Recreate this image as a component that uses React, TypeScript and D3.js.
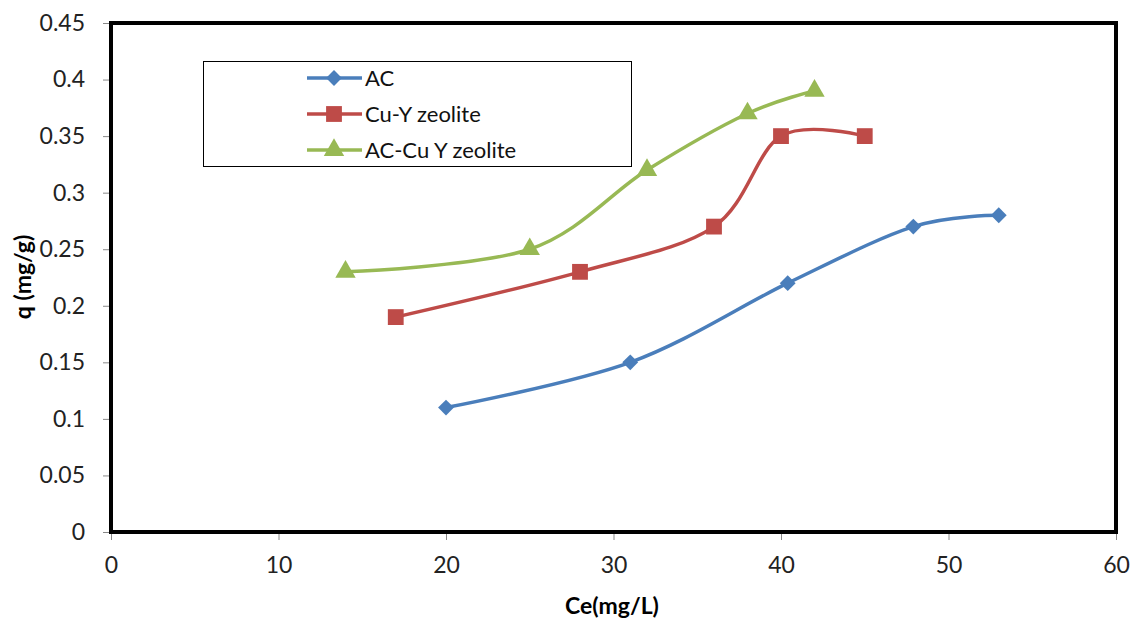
import React, { useEffect, useRef } from "react";
import * as d3 from "d3";

const acX = [20, 31, 40.4, 47.9, 53];
const acY = [0.11, 0.15, 0.22, 0.27, 0.28];
const cuX = [17, 28, 36, 40, 45];
const cuY = [0.19, 0.23, 0.27, 0.35, 0.35];
const mixX = [14, 25, 32, 38, 42];
const mixY = [0.23, 0.25, 0.32, 0.37, 0.39];
const xTicks = [0, 10, 20, 30, 40, 50, 60];
const yTicks = [0, 0.05, 0.1, 0.15, 0.2, 0.25, 0.3, 0.35, 0.4, 0.45];

const series = [
  { name: "AC", xs: acX, ys: acY, color: "#4A7EBB", symbol: d3.symbolDiamond2, size: 160 },
  { name: "Cu-Y zeolite", xs: cuX, ys: cuY, color: "#BE4B48", symbol: d3.symbolSquare, size: 250 },
  { name: "AC-Cu Y zeolite", xs: mixX, ys: mixY, color: "#98B954", symbol: d3.symbolTriangle, size: 180 },
];

const FONT = "Lato, 'Open Sans', sans-serif";

export default function App() {
  const svgRef = useRef<SVGSVGElement>(null);

  useEffect(() => {
    const svg = d3.select(svgRef.current);
    svg.selectAll("*").remove();
    const left = 111, right = 1116, top = 23, bottom = 532;
    const x = d3.scaleLinear().domain([0, 60]).range([left, right]);
    const y = d3.scaleLinear().domain([0, 0.45]).range([bottom, top]);

    // frame
    svg.append("rect")
      .attr("x", left).attr("y", top)
      .attr("width", right - left).attr("height", bottom - top)
      .attr("fill", "none").attr("stroke", "#000").attr("stroke-width", 4);

    const yAxis = svg.append("g")
      .attr("transform", `translate(${left - 2},0)`)
      .call(d3.axisLeft(y).tickValues(yTicks).tickSize(6).tickPadding(18).tickFormat(d => String(+d)));
    yAxis.select(".domain").remove();
    yAxis.selectAll("line").attr("stroke", "#888");
    yAxis.selectAll("text").attr("font-family", FONT).attr("font-size", 23).attr("fill", "#222");

    const xAxis = svg.append("g")
      .attr("transform", `translate(0,${bottom + 2})`)
      .call(d3.axisBottom(x).tickValues(xTicks).tickSize(6).tickPadding(17).tickFormat(d => String(d)));
    xAxis.select(".domain").remove();
    xAxis.selectAll("line").attr("stroke", "#888");
    xAxis.selectAll("text").attr("font-family", FONT).attr("font-size", 23).attr("fill", "#222");

    svg.append("text")
      .attr("transform", "translate(31,277) rotate(-90)")
      .attr("text-anchor", "middle")
      .attr("font-family", FONT).attr("font-weight", "bold").attr("font-size", 23)
      .text("q (mg/g)");
    svg.append("text")
      .attr("x", 612).attr("y", 614)
      .attr("text-anchor", "middle")
      .attr("font-family", FONT).attr("font-weight", "bold").attr("font-size", 23)
      .text("Ce(mg/L)");

    const line = d3.line<[number, number]>()
      .x(d => x(d[0])).y(d => y(d[1]))
      .curve(d3.curveCardinal.tension(0));

    series.forEach(s => {
      const pts = s.xs.map((v, i) => [v, s.ys[i]] as [number, number]);
      svg.append("path").datum(pts)
        .attr("d", line).attr("fill", "none")
        .attr("stroke", s.color).attr("stroke-width", 3.5);
      svg.selectAll(null).data(pts).join("path")
        .attr("transform", d => `translate(${x(d[0])},${y(d[1])})`)
        .attr("d", d3.symbol(s.symbol, s.size)())
        .attr("fill", s.color);
    });

    // legend
    const lg = svg.append("g");
    lg.append("rect").attr("x", 203.5).attr("y", 61.5).attr("width", 428).attr("height", 105)
      .attr("fill", "#fff").attr("stroke", "#000").attr("stroke-width", 1);
    series.forEach((s, i) => {
      const cy = 78 + i * 36;
      lg.append("line").attr("x1", 307).attr("x2", 362).attr("y1", cy).attr("y2", cy)
        .attr("stroke", s.color).attr("stroke-width", 3.5);
      lg.append("path").attr("transform", `translate(334,${cy})`)
        .attr("d", d3.symbol(s.symbol, s.size)()).attr("fill", s.color);
      lg.append("text").attr("x", 365).attr("y", cy + 8)
        .attr("font-family", FONT).attr("font-size", 22).attr("fill", "#111")
        .text(s.name);
    });
  }, []);

  return (
    <svg ref={svgRef} width={1135} height={622}
      style={{ position: "absolute", left: 0, top: 0, background: "#fff" }} />
  );
}
